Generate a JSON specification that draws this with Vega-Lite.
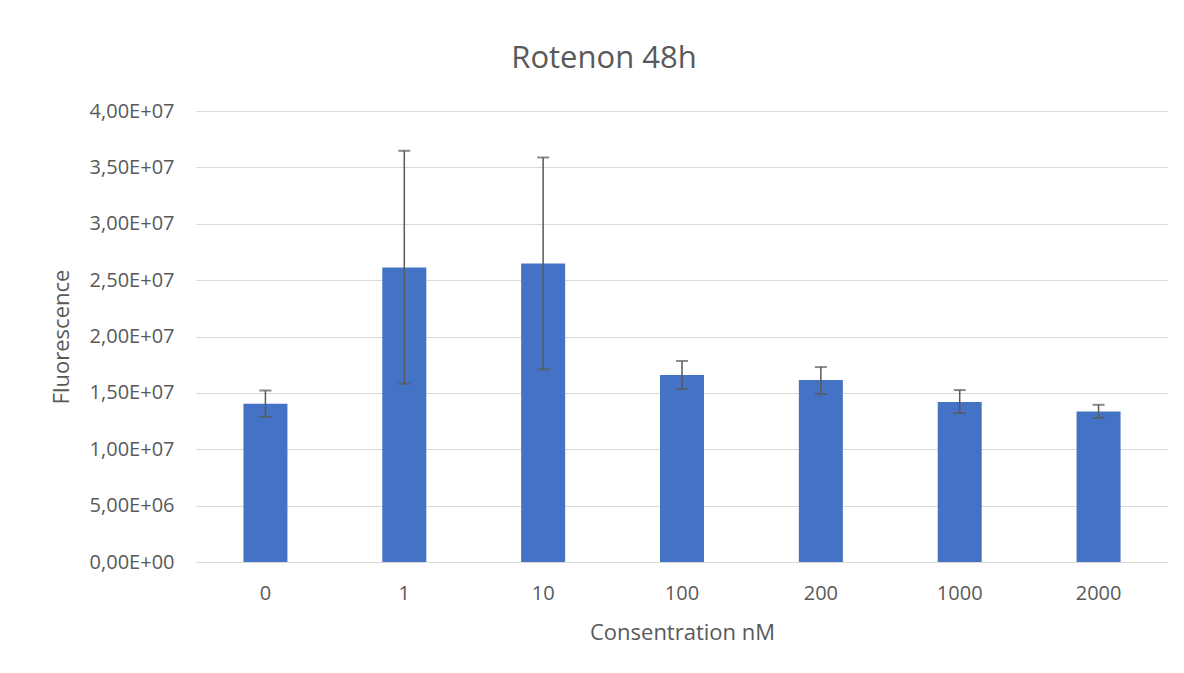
{
  "$schema": "https://vega.github.io/schema/vega-lite/v6.json",
  "width": 972,
  "height": 451,
  "autosize": {"type": "none"},
  "padding": {"left": 196, "top": 111, "right": 16, "bottom": 111},
  "background": "white",
  "title": {
    "text": "Rotenon 48h",
    "font": "Open Sans",
    "fontSize": 31,
    "fontWeight": "normal",
    "color": "#595959",
    "offset": 26,
    "dx": -78,
    "anchor": "middle"
  },
  "config": {
    "view": {"stroke": null},
    "axis": {
      "labelFont": "Open Sans",
      "titleFont": "Open Sans",
      "labelColor": "#595959",
      "titleColor": "#595959",
      "labelFontSize": 20,
      "titleFontSize": 22,
      "titleFontWeight": "normal",
      "ticks": false,
      "gridColor": "#d9d9d9",
      "domainColor": "#d9d9d9"
    }
  },
  "data": {
    "values": [
      {"conc": "0", "mean": 14030000, "lo": 12870000, "hi": 15210000},
      {"conc": "1", "mean": 26120000, "lo": 15810000, "hi": 36470000},
      {"conc": "10", "mean": 26480000, "lo": 17080000, "hi": 35880000},
      {"conc": "100", "mean": 16590000, "lo": 15340000, "hi": 17830000},
      {"conc": "200", "mean": 16140000, "lo": 14900000, "hi": 17290000},
      {"conc": "1000", "mean": 14190000, "lo": 13210000, "hi": 15250000},
      {"conc": "2000", "mean": 13340000, "lo": 12780000, "hi": 13940000}
    ]
  },
  "encoding": {
    "x": {
      "field": "conc",
      "type": "nominal",
      "sort": null,
      "title": "Consentration nM",
      "axis": {"labelAngle": 0, "labelPadding": 21, "titlePadding": 19, "domain": true}
    }
  },
  "layer": [
    {
      "mark": {"type": "bar", "color": "#4472C4", "width": 44},
      "encoding": {
        "y": {
          "field": "mean",
          "type": "quantitative",
          "title": "Fluorescence",
          "scale": {"domain": [0, 40000000]},
          "axis": {
            "values": [0, 5000000, 10000000, 15000000, 20000000, 25000000, 30000000, 35000000, 40000000],
            "labelExpr": "replace(replace(format(datum.value, '.2e'), '.', ','), 'e+', 'E+0')",
            "labelPadding": 22,
            "titlePadding": 16,
            "domain": false,
            "grid": true
          }
        }
      }
    },
    {
      "mark": {"type": "rule", "color": "#595959", "strokeWidth": 1.5},
      "encoding": {
        "y": {"field": "lo", "type": "quantitative"},
        "y2": {"field": "hi"}
      }
    },
    {
      "mark": {"type": "tick", "color": "#595959", "size": 12, "thickness": 2},
      "encoding": {"y": {"field": "lo", "type": "quantitative"}}
    },
    {
      "mark": {"type": "tick", "color": "#595959", "size": 12, "thickness": 2},
      "encoding": {"y": {"field": "hi", "type": "quantitative"}}
    }
  ]
}
